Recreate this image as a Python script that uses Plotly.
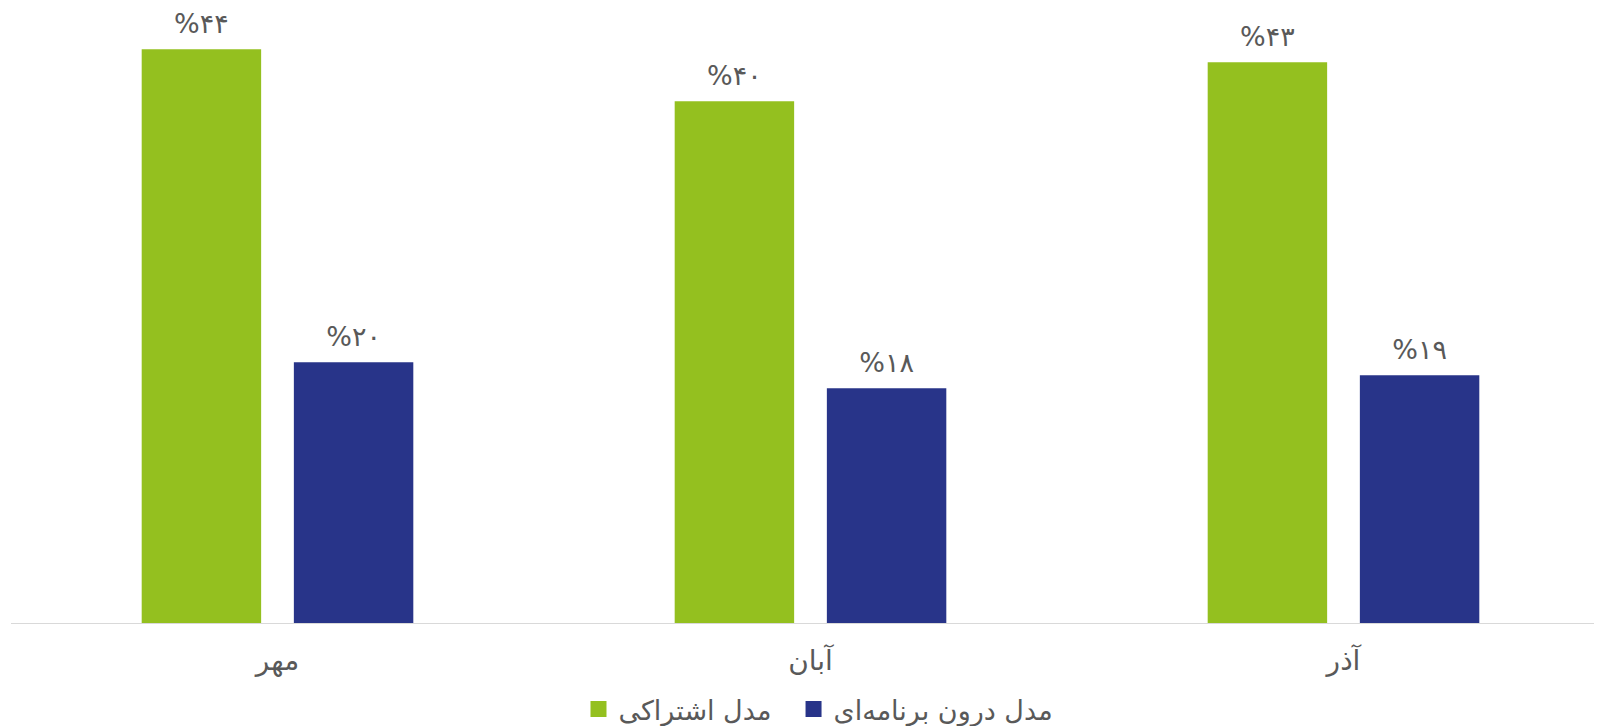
import plotly.graph_objects as go

months = ["مهر", "آبان", "آذر"]
subscription = [44, 40, 43]
in_app = [20, 18, 19]
subscription_labels = ["%۴۴", "%۴۰", "%۴۳"]
in_app_labels = ["%۲۰", "%۱۸", "%۱۹"]
series_names = ["مدل اشتراکی", "مدل درون برنامه‌ای"]
colors = ["#94C01F", "#283489"]

FONT = "DejaVu Sans"
TXT = "#595959"
PAD = "\u00a0\u00a0"

fig = go.Figure()
for i, vals in enumerate([subscription, in_app]):
    fig.add_trace(go.Bar(
        x=months, y=vals, name=series_names[i],
        marker=dict(color=colors[i], line=dict(width=0)),
        offsetgroup=str(i), alignmentgroup="g",
        showlegend=False, hoverinfo="skip",
    ))
for i, (vals, labels) in enumerate([(subscription, subscription_labels), (in_app, in_app_labels)]):
    fig.add_trace(go.Scatter(
        x=months, y=vals, mode="markers+text", text=labels, textposition="top center",
        offsetgroup=str(i), alignmentgroup="g",
        marker=dict(size=14, color="rgba(0,0,0,0)", line=dict(width=0)),
        textfont=dict(family=FONT, size=27, color=TXT),
        cliponaxis=False, showlegend=False, hoverinfo="skip",
    ))
for i in range(2):
    fig.add_trace(go.Scatter(
        x=[None], y=[None], mode="markers", name=series_names[i] + (PAD if i == 0 else ""),
        marker=dict(symbol="square", size=19, color=colors[i]),
        showlegend=True,
    ))

fig.update_layout(
    width=1602, height=726,
    paper_bgcolor="white", plot_bgcolor="white",
    margin=dict(l=3, r=0, t=2, b=111),
    barmode="group", bargap=0.429, bargroupgap=0.215,
    scattermode="group", scattergap=0.429,
    font=dict(family=FONT, color=TXT),
    showlegend=True,
    legend=dict(orientation="h", x=0.505, xanchor="center", yref="container",
                y=0.0, yanchor="bottom", font=dict(family=FONT, size=27, color=TXT),
                traceorder="normal", itemwidth=30),
)
fig.update_xaxes(
    showline=True, linecolor="#D9D9D9", linewidth=1,
    ticks="outside", ticklen=12, tickcolor="rgba(0,0,0,0)",
    tickfont=dict(family=FONT, size=28, color=TXT),
    showgrid=False, zeroline=False,
)
fig.update_yaxes(
    range=[0, 47.0], visible=False, showgrid=False, zeroline=False,
)

fig.write_html("out.html")
